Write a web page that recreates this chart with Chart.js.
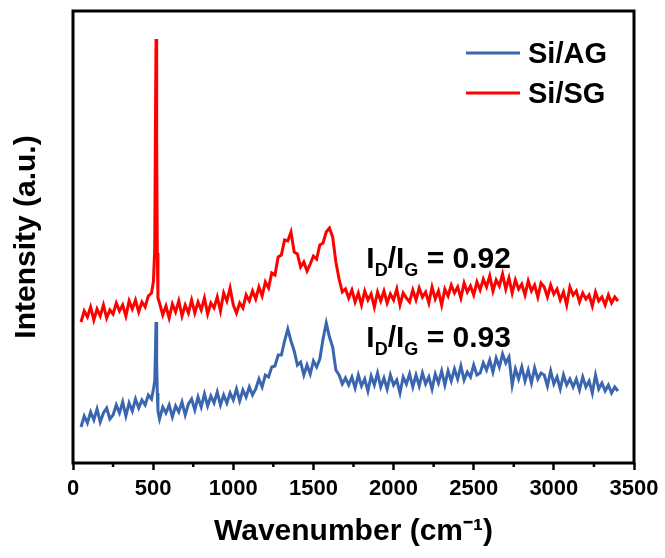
<!DOCTYPE html>
<html>
<head>
<meta charset="utf-8">
<script src="https://cdn.jsdelivr.net/npm/chart.js@4.4.1/dist/chart.umd.min.js"></script>
<style>
  html, body { margin: 0; padding: 0; background: #fff; }
  #wrap { width: 665px; height: 558px; }
</style>
</head>
<body>
<div id="wrap"><canvas id="chart"></canvas></div>
<script>
// Raman shift (cm-1), shared by both spectra
const wavenumber = [
  50, 70, 90, 110, 130, 150, 170, 190, 210, 230,
  250, 270, 290, 310, 330, 350, 370, 390, 410, 430,
  450, 470, 490, 502, 510, 514, 518, 522, 526, 530,
  540, 560, 580, 600, 620, 640, 660, 680, 700, 720,
  740, 760, 780, 800, 820, 840, 860, 880, 900, 920,
  940, 960, 980, 1000, 1020, 1040, 1060, 1080, 1100, 1120,
  1140, 1160, 1180, 1200, 1220, 1240, 1260, 1280, 1300, 1320,
  1340, 1360, 1380, 1400, 1420, 1440, 1460, 1480, 1500, 1520,
  1540, 1560, 1580, 1600, 1620, 1640, 1660, 1680, 1700, 1720,
  1740, 1760, 1780, 1800, 1820, 1840, 1860, 1880, 1900, 1920,
  1940, 1960, 1980, 2000, 2020, 2040, 2060, 2080, 2100, 2120,
  2140, 2160, 2180, 2200, 2220, 2240, 2260, 2280, 2300, 2320,
  2340, 2360, 2380, 2400, 2420, 2440, 2460, 2480, 2500, 2520,
  2540, 2560, 2580, 2600, 2620, 2640, 2660, 2680, 2700, 2720,
  2740, 2760, 2780, 2800, 2820, 2840, 2860, 2880, 2900, 2920,
  2940, 2960, 2980, 3000, 3020, 3040, 3060, 3080, 3100, 3120,
  3140, 3160, 3180, 3200, 3220, 3240, 3260, 3280, 3300, 3320,
  3340, 3360, 3380, 3400
];

// intensities (a.u., stacked offsets as in the figure)
const siSG = [
  141, 152, 146, 156, 143, 154, 147, 158, 145, 153,
  149, 160, 152, 158, 147, 162, 154, 163, 151, 161,
  156, 167, 170, 182, 215, 330, 424, 320, 210, 165,
  160, 148, 157, 145, 159, 151, 162, 147, 158, 150,
  163, 150, 161, 153, 165, 149, 160, 155, 166, 152,
  170, 162, 175, 158, 150, 160, 155, 168, 162, 172,
  164, 176, 167, 181, 175, 190, 188, 206, 208, 223,
  222, 231, 211, 209, 196, 201, 192, 199, 207, 204,
  218, 220, 231, 235, 226, 201, 184, 171, 174, 165,
  173, 161, 170, 158, 172, 163, 169, 156, 171, 162,
  172, 160, 169, 163, 174, 158, 170, 165, 161, 173,
  163, 175, 166, 171, 160, 176, 164, 172, 158, 174,
  167, 178, 170, 176, 165, 180, 171, 177, 168, 181,
  173, 184, 176, 187, 172, 183, 177, 189, 174, 185,
  170, 183, 174, 179, 168, 182, 172, 178, 166, 180,
  176, 166, 178, 169, 174, 163, 171, 158, 176, 168,
  172, 161, 170, 164, 168, 157, 171, 162, 166, 158,
  168, 160, 166, 162
];

const siAG = [
  36, 47, 40, 51, 43, 54, 41, 50, 55, 44,
  48, 58, 50, 61, 47, 60, 52, 64, 55, 63,
  58, 68, 64, 74, 82, 110, 141, 100, 70, 52,
  44, 56, 50, 58, 46, 57, 51, 61, 48, 59,
  64, 53, 66, 56, 69, 57, 67, 60, 71, 58,
  68, 60, 70, 63, 74, 62, 73, 66, 76, 68,
  74, 84, 76, 88, 86, 96, 97, 108, 108, 122,
  134, 122, 112, 98, 101, 88, 98, 89, 102, 96,
  104, 124, 140, 126, 116, 93, 88, 79, 85, 78,
  86, 75, 88, 77, 84, 72, 87, 78, 90, 76,
  85, 74, 88, 78, 83, 70, 86, 79, 89, 76,
  88, 77, 90, 79, 86, 74, 89, 80, 92, 78,
  92, 82, 94, 84, 97, 83, 91, 86, 98, 88,
  90, 100, 93, 103, 91, 105, 96, 109, 100, 106,
  78, 94, 84, 96, 82, 93, 80, 95, 84, 90,
  88, 77, 92, 79, 86, 74, 88, 78, 84, 76,
  84, 73, 86, 76, 82, 70, 88, 74, 80, 72,
  78, 70, 76, 72
];

const seriesNames = ['Si/AG', 'Si/SG'];
const seriesColors = ['#3a66b0', '#ff0000'];
const ratioLabels = ['0.93', '0.92'];
const xTicks = [0, 500, 1000, 1500, 2000, 2500, 3000, 3500];

const FONT = "'Liberation Sans', Arial, sans-serif";

const toPoints = (ys) => wavenumber.map((x, i) => ({ x: x, y: ys[i] }));

// frame, minor ticks, legend and I_D/I_G notes
const extras = {
  id: 'extras',
  afterDraw(chart) {
    const ctx = chart.ctx;
    const a = chart.chartArea;
    const xs = chart.scales.x;
    const ys = chart.scales.y;
    ctx.save();

    // box around plot
    ctx.strokeStyle = '#000';
    ctx.lineWidth = 3;
    ctx.strokeRect(a.left, a.top, a.right - a.left, a.bottom - a.top);

    // minor ticks every 250
    ctx.lineWidth = 2.5;
    for (let v = 250; v < 3500; v += 500) {
      const px = xs.getPixelForValue(v);
      ctx.beginPath();
      ctx.moveTo(px, a.bottom);
      ctx.lineTo(px, a.bottom + 4);
      ctx.stroke();
    }

    // legend
    const legY = [53, 93];
    seriesNames.forEach((name, i) => {
      ctx.strokeStyle = seriesColors[i];
      ctx.lineWidth = 3;
      ctx.beginPath();
      ctx.moveTo(466, legY[i]);
      ctx.lineTo(520, legY[i]);
      ctx.stroke();
      ctx.fillStyle = '#000';
      ctx.font = 'bold 29px ' + FONT;
      ctx.textBaseline = 'alphabetic';
      ctx.fillText(name, 528, legY[i] + 10);
    });

    // ID/IG = ...
    const drawRatio = (x, y, val) => {
      const big = 'bold 30px ' + FONT;
      const sub = 'bold 18px ' + FONT;
      const runs = [['I', big, 0], ['D', sub, 8], ['/I', big, 0], ['G', sub, 8], [' = ' + val, big, 0]];
      ctx.fillStyle = '#000';
      ctx.textBaseline = 'alphabetic';
      runs.forEach(([t, f, dy]) => {
        ctx.font = f;
        ctx.fillText(t, x, y + dy);
        x += ctx.measureText(t).width;
      });
    };
    drawRatio(xs.getPixelForValue(1830), ys.getPixelForValue(116), ratioLabels[0]);
    drawRatio(xs.getPixelForValue(1830), ys.getPixelForValue(195), ratioLabels[1]);

    ctx.restore();
  }
};

new Chart(document.getElementById('chart'), {
  type: 'line',
  data: {
    datasets: [
      { label: seriesNames[0], data: toPoints(siAG), borderColor: seriesColors[0], borderWidth: 3, pointRadius: 0, tension: 0 },
      { label: seriesNames[1], data: toPoints(siSG), borderColor: seriesColors[1], borderWidth: 3, pointRadius: 0, tension: 0 }
    ]
  },
  options: {
    responsive: true,
    maintainAspectRatio: false,
    animation: false,
    layout: { padding: { top: 11, right: 31, left: 0, bottom: 0 } },
    plugins: { legend: { display: false }, tooltip: { enabled: false } },
    scales: {
      x: {
        type: 'linear',
        min: 0,
        max: 3500,
        afterBuildTicks: (s) => { s.ticks = xTicks.map(v => ({ value: v })); },
        afterFit: (s) => { s.height = 95; },
        border: { display: false },
        grid: { drawOnChartArea: false, tickLength: 7, tickWidth: 2.5, tickColor: '#000' },
        ticks: { color: '#000', padding: 6, maxRotation: 0, callback: (v) => String(v), font: { family: FONT, size: 22, weight: 'bold' } },
        title: { display: true, text: 'Wavenumber (cm\u207B\u00B9)', color: '#000', padding: { bottom: 8 }, font: { family: FONT, size: 30, weight: 'bold' } }
      },
      y: {
        min: 0,
        max: 452,
        afterFit: (s) => { s.width = 73; },
        border: { display: false },
        grid: { display: false },
        ticks: { display: false },
        title: { display: true, text: 'Intensity (a.u.)', color: '#000', padding: { top: 9 }, font: { family: FONT, size: 30, weight: 'bold' } }
      }
    }
  },
  plugins: [extras]
});
</script>
</body>
</html>
